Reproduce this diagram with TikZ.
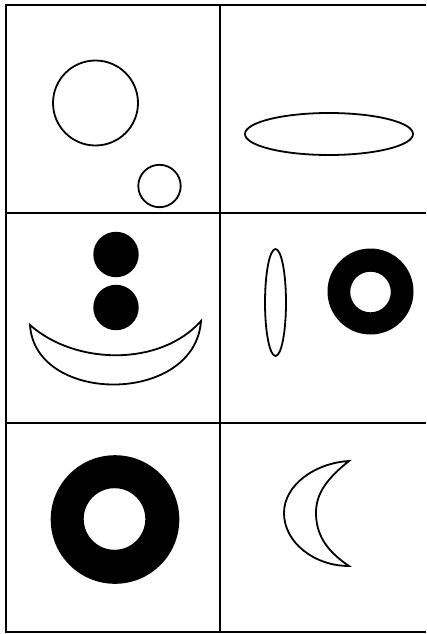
\documentclass[tikz,border=0pt]{standalone}
\begin{document}
\begin{tikzpicture}[x=1pt,y=-1pt,
  gridline/.style={line width=2pt,black},
  outline/.style={line width=1.8pt,black},
  solid fill/.style={fill=black,draw=none}]
\useasboundingbox (0,0) rectangle (426,634);
\fill[white] (0,0) rectangle (426,634);
% grid
\draw[gridline] (426,5) -- (6,5) -- (6,632) -- (426,632);
\draw[gridline] (220,5) -- (220,632);
\draw[gridline] (6,213) -- (426,213);
\draw[gridline] (6,423) -- (426,423);
% cell 1
\draw[outline] (95.5,103) circle[radius=42.5];
\draw[outline] (159.5,186) circle[radius=21.2];
% cell 2
\draw[outline] (329,134) ellipse[x radius=84, y radius=21];
% cell 3
\fill[solid fill] (116,254.5) circle[radius=22.7];
\fill[solid fill] (116,307.5) circle[radius=22.7];
\draw[outline,line join=miter] (30,325) .. controls (75,365) and (160,367) .. (201,321)
  .. controls (195,405) and (35,405) .. cycle;
% cell 4
\draw[outline] (275.5,302.5) ellipse[x radius=10.5, y radius=53.5];
\fill[solid fill,even odd rule] (370.5,291.5) circle[radius=43] (370.5,292) circle[radius=20.3];
% cell 5
\fill[solid fill,even odd rule] (115,519.5) circle[radius=64.3] (114.5,519) circle[radius=30.8];
% cell 6
\draw[outline,line join=miter] (349,461) .. controls (315,463) and (284,485) .. (284,513)
  .. controls (284,543) and (315,566) .. (349,566)
  .. controls (325,550) and (316,533) .. (316,513)
  .. controls (316,495) and (325,480) .. cycle;
\end{tikzpicture}
\end{document}
